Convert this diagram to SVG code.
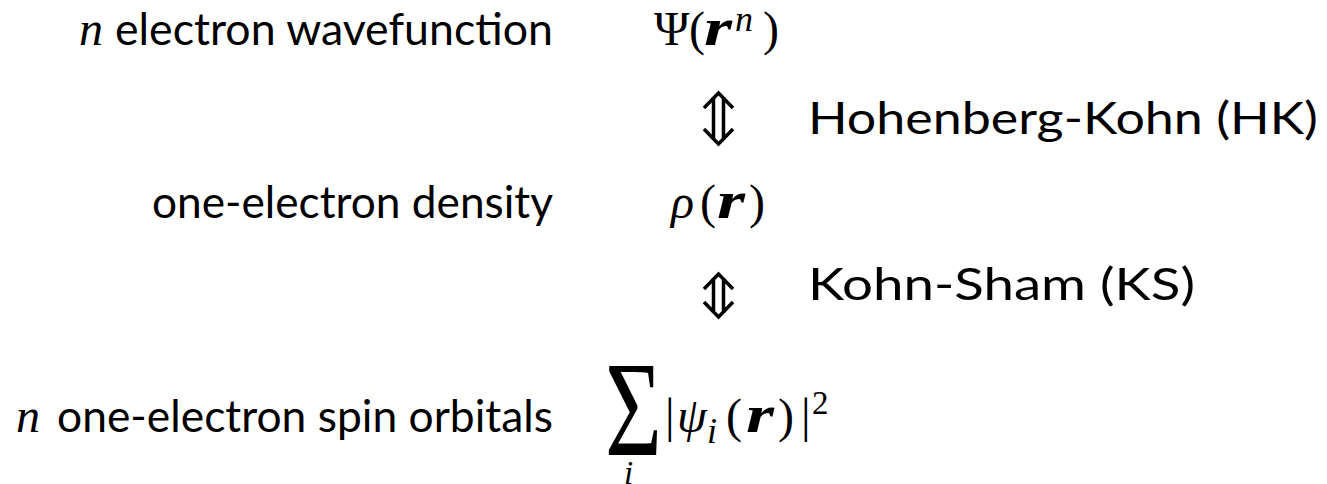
<svg xmlns="http://www.w3.org/2000/svg" width="1327" height="484" viewBox="0 0 1327 484">
<style>
.t{font-family:Lato,"Open Sans","Liberation Sans",sans-serif;font-size:44px;fill:#000}
.m{font-family:"Liberation Serif","DejaVu Serif",serif;font-size:48px;fill:#000}
.mi{font-family:"Liberation Serif","DejaVu Serif",serif;font-size:48px;font-style:italic;fill:#000}
.mb{font-family:"Liberation Serif","DejaVu Serif",serif;font-size:52px;font-style:italic;font-weight:bold;fill:#000}
.sm{font-size:36px}
.arr{fill:none;stroke:#000;stroke-width:3.5;stroke-linecap:butt;stroke-linejoin:miter}
</style>
<rect width="1327" height="484" fill="#fff"/>
<g id="row-wavefunction">
<text class="mi" x="79" y="45">n</text>
<text class="t" x="115" y="45" textLength="438" lengthAdjust="spacingAndGlyphs">electron wavefunction</text>
<text class="m" x="654" y="45">Ψ</text>
<text class="m" x="689" y="45">(</text>
<text class="mb" x="704" y="45" textLength="28" lengthAdjust="spacingAndGlyphs">r</text>
<text class="mi sm" x="735" y="31">n</text>
<text class="m" x="763" y="45">)</text>
</g>
<g id="row-density">
<text class="t" x="152" y="218" textLength="401" lengthAdjust="spacingAndGlyphs">one-electron density</text>
<text class="mi" x="671" y="218">ρ</text>
<text class="m" x="700" y="218">(</text>
<text class="mb" x="717" y="218" textLength="28" lengthAdjust="spacingAndGlyphs">r</text>
<text class="m" x="749" y="218">)</text>
</g>
<g id="row-orbitals">
<text class="mi" x="16" y="432">n</text>
<text class="t" x="57" y="432" textLength="496" lengthAdjust="spacingAndGlyphs">one-electron spin orbitals</text>
<text class="m" x="605" y="455" style="font-size:136px" textLength="57" lengthAdjust="spacingAndGlyphs">Σ</text>
<text class="mi" x="624" y="484" style="font-size:33px">i</text>
<text class="m" x="665" y="432">|</text>
<text class="mi" x="677" y="432">ψ</text>
<text class="mi sm" x="707" y="443">i</text>
<text class="m" x="726" y="432">(</text>
<text class="mb" x="746" y="432" textLength="28" lengthAdjust="spacingAndGlyphs">r</text>
<text class="m" x="778" y="432">)</text>
<text class="m" x="801" y="432">|</text>
<text class="m" x="812" y="414" style="font-size:33px">2</text>
</g>
<g id="label-hk">
<text class="t" x="808" y="134" textLength="510" lengthAdjust="spacingAndGlyphs">Hohenberg-Kohn (HK)</text>
</g>
<g id="label-ks">
<text class="t" x="808" y="300" textLength="387" lengthAdjust="spacingAndGlyphs">Kohn-Sham (KS)</text>
</g>
<g id="connectors">
<path class="arr" d="M713.5,97 V140 M723.5,97 V140 M704,108 L718.5,93 L733,108 M704,129 L718.5,144 L733,129"/>
<path class="arr" d="M713.5,278 V313 M723.5,278 V313 M704,289 L718.5,274 L733,289 M704,302 L718.5,317 L733,302"/>
</g>
</svg>
